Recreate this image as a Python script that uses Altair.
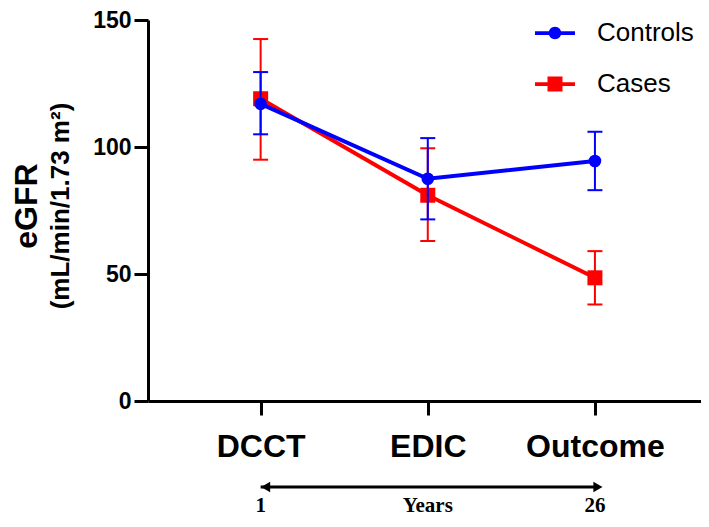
import altair as alt
import pandas as pd

# ---------------- data ----------------
categories = ["DCCT", "EDIC", "Outcome"]
series_names = ["Controls", "Cases"]
series_colors = ["#0000FF", "#FF0000"]

controls_mean = [117.0, 87.5, 94.5]
controls_low = [105.0, 71.5, 83.0]
controls_high = [129.5, 103.5, 106.0]

cases_mean = [119.0, 81.0, 48.5]
cases_low = [95.0, 63.0, 38.0]
cases_high = [142.5, 99.5, 59.0]

y_ticks = [0, 50, 100, 150]
year_labels = ["1", "Years", "26"]
arrow_ends = ["DCCT", "Outcome"]
y_title = ["eGFR"]
y_subtitle = ["(mL/min/1.73 m\u00b2)"]

rows = []
for name, m, lo, hi in [
    ("Controls", controls_mean, controls_low, controls_high),
    ("Cases", cases_mean, cases_low, cases_high),
]:
    for c, a, b, d in zip(categories, m, lo, hi):
        rows.append({"series": name, "visit": c, "mean": a, "low": b, "high": d})
df = pd.DataFrame(rows)

years_df = pd.DataFrame({"visit": categories, "label": year_labels})
arrow_df = pd.DataFrame({"visit": arrow_ends})
title_df = pd.DataFrame({"t": y_title})
subtitle_df = pd.DataFrame({"t": y_subtitle})

# ---------------- encodings ----------------
x_scale = alt.Scale(type="point", domain=categories, padding=0.6542, align=0.515)
x_axis = alt.Axis(title=None, labelAngle=0, labelFontSize=32, labelPadding=16,
                  labelBaseline="top")
x_enc = alt.X("visit:N", sort=categories, scale=x_scale, axis=x_axis)

y_scale = alt.Scale(domain=[0, 150], nice=False, zero=True)
y_axis = alt.Axis(title=None, values=y_ticks, labelFontSize=23, labelPadding=3)

legend_props = dict(orient="none", legendX=394, legendY=0, title=None,
                    labelFont="Liberation Sans", labelFontSize=26, labelFontWeight="normal",
                    labelColor="black", symbolSize=625, symbolStrokeWidth=0, symbolOpacity=1,
                    labelOffset=29, rowPadding=25, padding=0)

color_scale = alt.Scale(domain=series_names, range=series_colors)
color_enc = alt.Color("series:N", scale=color_scale, legend=alt.Legend(**legend_props))


def series_layers(name, shape, size):
    base = alt.Chart(df).transform_filter(alt.datum.series == name)
    err = base.mark_rule(strokeWidth=2).encode(
        x=x_enc, y=alt.Y("low:Q", scale=y_scale, axis=y_axis), y2="high:Q", color=color_enc)
    cap_lo = base.mark_tick(size=15, thickness=2, opacity=1).encode(
        x=x_enc, y=alt.Y("low:Q", scale=y_scale, axis=y_axis), color=color_enc)
    cap_hi = base.mark_tick(size=15, thickness=2, opacity=1).encode(
        x=x_enc, y=alt.Y("high:Q", scale=y_scale, axis=y_axis), color=color_enc)
    line = base.mark_line(strokeWidth=4).encode(
        x=x_enc, y=alt.Y("mean:Q", scale=y_scale, axis=y_axis), color=color_enc)
    pts = base.mark_point(filled=True, opacity=1, shape=shape, size=size, strokeWidth=0).encode(
        x=x_enc, y=alt.Y("mean:Q", scale=y_scale, axis=y_axis), color=color_enc)
    return [err, cap_lo, cap_hi, line, pts]


cases_layers = series_layers("Cases", "square", 225)
controls_layers = series_layers("Controls", "circle", 160)

# ---------------- legend (line + marker symbols) ----------------
path_controls = ("M-1.6,-0.15H-0.45V0.15H-1.6Z M0.45,-0.15H1.6V0.15H0.45Z "
                 "M0.5,0A0.5,0.5,0,1,1,-0.5,0A0.5,0.5,0,1,1,0.5,0Z")
path_cases = "M-1.6,-0.15H1.6V0.15H-1.6Z M-0.6,-0.6H0.6V0.6H-0.6Z"

legend_layer = alt.Chart(df).transform_filter("false").mark_point(
    filled=True, size=625, opacity=1).encode(
    color=color_enc,
    shape=alt.Shape("series:N", scale=alt.Scale(domain=series_names,
                                                range=[path_controls, path_cases]),
                    legend=alt.Legend(**legend_props)),
)

# ---------------- y title (two lines, different sizes) ----------------
title_layer = alt.Chart(title_df).mark_text(
    angle=270, font="Liberation Sans", fontWeight="bold", fontSize=32,
    align="center", baseline="middle", color="black").encode(
    x=alt.value(-121), y=alt.value(186), text="t:N")
subtitle_layer = alt.Chart(subtitle_df).mark_text(
    angle=270, font="Liberation Sans", fontWeight="bold", fontSize=26,
    align="center", baseline="middle", color="black").encode(
    x=alt.value(-87), y=alt.value(186), text="t:N")

# ---------------- bottom arrow and year labels ----------------
arrow_line = alt.Chart(arrow_df).mark_line(color="black", strokeWidth=3).encode(
    x=x_enc, y=alt.value(467))
arrow_left = alt.Chart(arrow_df).transform_filter(alt.datum.visit == "DCCT").mark_point(
    shape="triangle-left", filled=True, size=110, color="black", opacity=1, xOffset=5).encode(
    x=x_enc, y=alt.value(467))
arrow_right = alt.Chart(arrow_df).transform_filter(alt.datum.visit == "Outcome").mark_point(
    shape="triangle-right", filled=True, size=110, color="black", opacity=1, xOffset=3).encode(
    x=x_enc, y=alt.value(467))
years_text = alt.Chart(years_df).mark_text(
    font="Liberation Serif", fontWeight="bold", fontSize=21, baseline="alphabetic",
    align="center", color="black").encode(
    x=x_enc, y=alt.value(492), text="label:N")

chart = alt.layer(
    *cases_layers, *controls_layers,
    title_layer, subtitle_layer,
    arrow_line, arrow_left, arrow_right, years_text,
    legend_layer,
).properties(
    width=553, height=381,
    padding={"left": 140, "top": 12, "right": 0, "bottom": 118},
    autosize=alt.AutoSizeParams(type="none"),
).configure_view(stroke=None).configure_axis(
    domainColor="black", domainWidth=3, tickColor="black", tickWidth=3, tickSize=14,
    labelColor="black", labelFont="Liberation Sans", labelFontWeight="bold", grid=False,
)

chart.save("out.html", embed_options={"renderer": "svg", "actions": False})
